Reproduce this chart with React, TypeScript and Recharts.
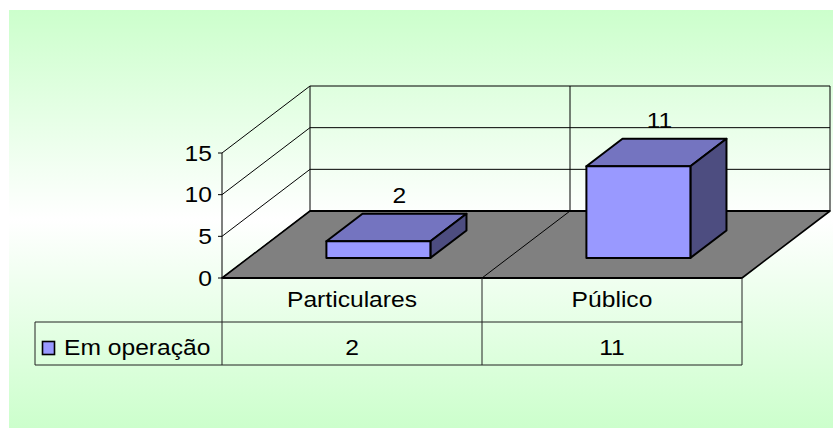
import React from 'react';
import { BarChart, Bar, XAxis, YAxis, CartesianGrid, ReferenceArea, LabelList } from 'recharts';

// Data
const categories = ['Particulares', 'Público'];
const emOperacao = [2, 11];
const seriesName = 'Em operação';
const yTicks = [0, 5, 10, 15];

const data = categories.map((name, i) => ({ name, value: emOperacao[i] }));

// Layout
const W = 833;
const H = 429;
const MARGIN = { top: 153, right: 91, bottom: 64, left: 162 };
const Y_AXIS_W = 60;
const TABLE_ROW1 = 44;
const TABLE_ROW2 = 43;
const LEGEND_LEFT = 35;
const DEPTH = { dx: 88, dy: -67 }; // floor depth projected onto the page
const BAR_FRONT_GAP = 0.3; // share of the floor depth in front of the boxes
const BAR_DEPTH = 0.41; // share of the floor depth taken by a box

// Style
const FONT = "'Liberation Sans', Arial, sans-serif";
const FONT_SIZE = 22;
const STRETCH = 1.12;
const BOX_FRONT = '#9999ff';
const BOX_TOP = '#7474c0';
const BOX_SIDE = '#4d4d80';
const FLOOR = '#808080';

type TxtProps = { x: number; y: number; anchor?: 'start' | 'middle' | 'end'; children: React.ReactNode };

const Txt = ({ x, y, anchor = 'middle', children }: TxtProps) => (
  <text
    transform={`translate(${x},${y}) scale(${STRETCH},1)`}
    textAnchor={anchor}
    fontFamily={FONT}
    fontSize={FONT_SIZE}
    fill="#000"
  >
    {children}
  </text>
);

const YTick = (p: any) => (
  <Txt x={p.x} y={p.y + 7.5} anchor="end">
    {p.payload.value}
  </Txt>
);

// Category names and values of the data table under the floor
const TableTick = (p: any) => (
  <g>
    <Txt x={p.x} y={p.y + 29}>{p.payload.value}</Txt>
    <Txt x={p.x} y={p.y + TABLE_ROW1 + 33}>{emOperacao[p.index]}</Txt>
  </g>
);

// Side-wall and back-wall gridline for one value tick
const WallLine = (p: any) => {
  const bx = p.x1 + DEPTH.dx;
  const by = p.y1 + DEPTH.dy;
  return (
    <g>
      <line x1={p.x1} y1={p.y1} x2={bx} y2={by} stroke="#000" strokeWidth={1} />
      <line x1={bx} y1={by} x2={p.x2 + DEPTH.dx} y2={by} stroke="#000" strokeWidth={1} />
    </g>
  );
};

// Floor, back-wall dividers and the table frame, from the plot rectangle
const Frame = (p: any) => {
  const { x, y, width, height } = p;
  const bottom = y + height;
  const right = x + width;
  const n = categories.length;
  const cw = width / n;
  const cols = Array.from({ length: n + 1 }, (_, i) => x + i * cw);
  const t1 = bottom + TABLE_ROW1;
  const t2 = t1 + TABLE_ROW2;
  return (
    <g>
      {cols.map((cx, i) => (
        <line key={`bw${i}`} x1={cx + DEPTH.dx} y1={y + DEPTH.dy} x2={cx + DEPTH.dx} y2={bottom + DEPTH.dy} stroke="#000" strokeWidth={1} />
      ))}
      <polygon
        points={`${x},${bottom} ${right},${bottom} ${right + DEPTH.dx},${bottom + DEPTH.dy} ${x + DEPTH.dx},${bottom + DEPTH.dy}`}
        fill={FLOOR}
        stroke="#000"
        strokeWidth={1.6}
        strokeLinejoin="round"
      />
      <line x1={x} y1={bottom} x2={right} y2={bottom} stroke="#000" strokeWidth={2.2} />
      <line x1={x + DEPTH.dx} y1={bottom + DEPTH.dy} x2={right + DEPTH.dx} y2={bottom + DEPTH.dy} stroke="#000" strokeWidth={2.2} />
      {cols.slice(1, -1).map((cx, i) => (
        <line key={`fd${i}`} x1={cx} y1={bottom} x2={cx + DEPTH.dx} y2={bottom + DEPTH.dy} stroke="#000" strokeWidth={1} />
      ))}
      {cols.map((cx, i) => (
        <line key={`tc${i}`} x1={cx} y1={bottom} x2={cx} y2={t2} stroke="#222" strokeWidth={1} />
      ))}
      <line x1={LEGEND_LEFT} y1={t1} x2={right} y2={t1} stroke="#222" strokeWidth={1} />
      <line x1={LEGEND_LEFT} y1={t2} x2={right} y2={t2} stroke="#222" strokeWidth={1} />
      <line x1={LEGEND_LEFT} y1={t1} x2={LEGEND_LEFT} y2={t2} stroke="#222" strokeWidth={1} />
      <rect x={LEGEND_LEFT + 7.5} y={t1 + 19.5} width={12} height={13} fill={BOX_FRONT} stroke="#000" strokeWidth={1.6} />
      <Txt x={LEGEND_LEFT + 29} y={t1 + 33} anchor="start">{seriesName}</Txt>
    </g>
  );
};

// 3D box standing on the floor
const Box = (p: any) => {
  const { x, y, width, height } = p;
  if (height == null || width == null) return null;
  const fx = x + DEPTH.dx * BAR_FRONT_GAP;
  const fy = y + DEPTH.dy * BAR_FRONT_GAP;
  const bx = DEPTH.dx * BAR_DEPTH;
  const by = DEPTH.dy * BAR_DEPTH;
  const fr = fx + width;
  const fb = fy + height;
  const s = { stroke: '#000', strokeWidth: 2, strokeLinejoin: 'round' as const };
  return (
    <g>
      <polygon points={`${fx},${fy} ${fx + bx},${fy + by} ${fr + bx},${fy + by} ${fr},${fy}`} fill={BOX_TOP} {...s} />
      <polygon points={`${fr},${fy} ${fr + bx},${fy + by} ${fr + bx},${fb + by} ${fr},${fb}`} fill={BOX_SIDE} {...s} />
      <rect x={fx} y={fy} width={width} height={height} fill={BOX_FRONT} {...s} />
    </g>
  );
};

const BoxLabel = (p: any) => {
  const { x, y, width, value } = p;
  const mid = BAR_FRONT_GAP + BAR_DEPTH / 2;
  const cx = x + width / 2 + DEPTH.dx * mid + 3;
  const cy = y + DEPTH.dy * mid;
  return <Txt x={cx} y={cy - 24}>{value}</Txt>;
};

export default function App() {
  return (
    <div style={{ position: 'relative', width: W, height: H }}>
      <style>{'body{margin:0}'}</style>
      <div
        style={{
          position: 'absolute',
          left: 9,
          top: 10,
          width: W - 9,
          height: H - 11,
          background: 'linear-gradient(to bottom, #ccffcc 0%, #ffffff 50%, #ccffcc 100%)',
        }}
      />
      <div style={{ position: 'absolute', left: 0, top: 0 }}>
        <BarChart width={W} height={H} data={data} margin={MARGIN} barCategoryGap="30%" style={{ fontFamily: FONT }}>
          <CartesianGrid vertical={false} horizontal={WallLine} />
          <ReferenceArea y1={0} y2={15} shape={Frame} />
          <XAxis
            dataKey="name"
            height={TABLE_ROW1 + TABLE_ROW2}
            axisLine={false}
            tickLine={false}
            tickSize={0}
            tickMargin={0}
            interval={0}
            tick={TableTick}
          />
          <YAxis
            type="number"
            domain={[0, 15]}
            ticks={yTicks}
            interval={0}
            width={Y_AXIS_W}
            tickSize={4}
            tickMargin={6}
            axisLine={{ stroke: '#000' }}
            tickLine={{ stroke: '#000' }}
            tick={YTick}
          />
          <Bar dataKey="value" isAnimationActive={false} shape={Box}>
            <LabelList dataKey="value" content={BoxLabel} />
          </Bar>
        </BarChart>
      </div>
    </div>
  );
}
